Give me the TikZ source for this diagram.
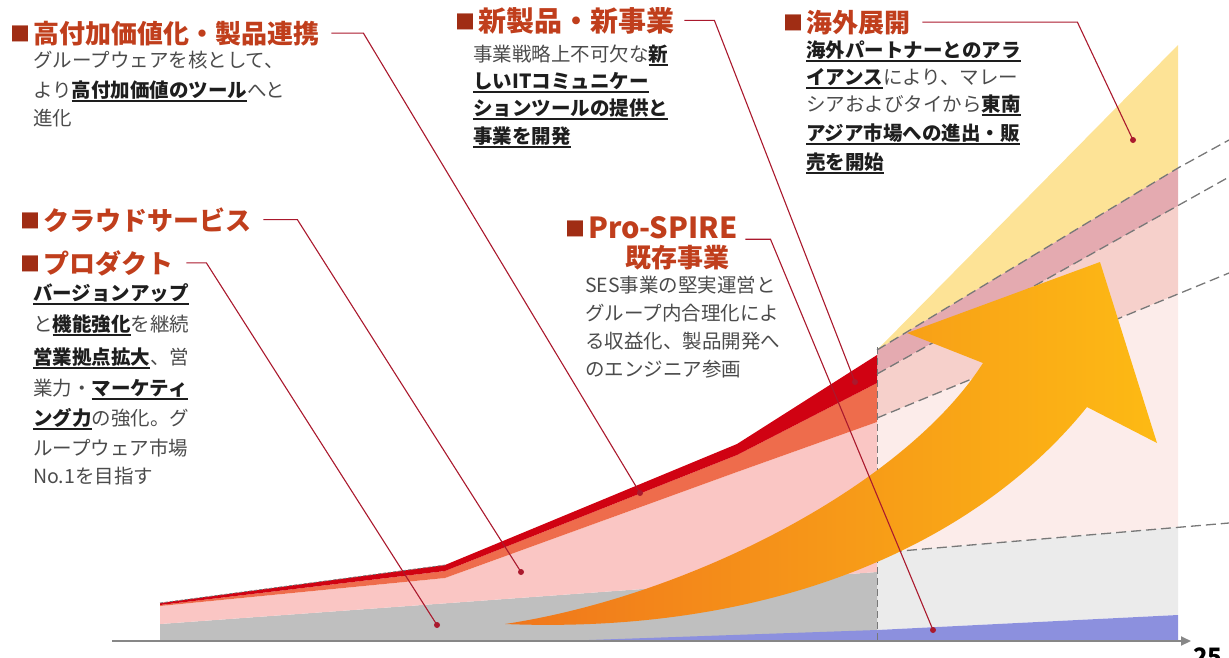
\documentclass[tikz,border=0pt]{standalone}
\usepackage{fontspec}
\setmainfont{Noto Sans CJK JP}
\usetikzlibrary{arrows.meta}
\definecolor{cyellow}{RGB}{253,227,150}
\definecolor{cmauve}{RGB}{228,170,176}
\definecolor{csalmon}{RGB}{246,208,203}
\definecolor{clpink}{RGB}{252,236,234}
\definecolor{clgray}{RGB}{235,235,235}
\definecolor{cblue}{RGB}{140,144,222}
\definecolor{cgray}{RGB}{191,191,191}
\definecolor{cpink}{RGB}{250,198,196}
\definecolor{corange}{RGB}{238,108,76}
\definecolor{cred}{RGB}{208,2,18}
\definecolor{arrowA}{RGB}{240,118,28}
\definecolor{arrowB}{RGB}{253,186,20}
\definecolor{leadred}{RGB}{170,25,45}
\definecolor{titlered}{RGB}{192,62,28}
\definecolor{sqred}{RGB}{160,45,20}
\definecolor{bodygray}{RGB}{75,75,75}
\definecolor{boldblack}{RGB}{30,30,30}
\definecolor{dashgray}{RGB}{120,120,120}
\definecolor{axisgray}{RGB}{135,135,135}
\newsavebox{\ulbox}
\newcommand{\myul}[1]{\sbox{\ulbox}{\bfseries\color{boldblack}#1}\rlap{\color{boldblack}\rule[-4.5pt]{\wd\ulbox}{1.3pt}}\usebox{\ulbox}}
\newcommand{\tsq}{\raisebox{2pt}{\fontsize{20}{20}\selectfont\color{sqred}■}\hspace{3pt}}
\begin{document}
\begin{tikzpicture}[x=1pt,y=-1pt,
  title/.style={anchor=base west,inner sep=0pt,text=titlered,font=\fontsize{26}{26}\selectfont\bfseries},
  body/.style={anchor=base west,inner sep=0pt,text=bodygray,font=\fontsize{19.5}{19.5}\selectfont},
  leader/.style={draw=leadred,line width=1.1pt},
  dot/.style={circle,fill=leadred,inner sep=0pt,minimum size=6pt},
  guide/.style={draw=dashgray,line width=1.3pt,dash pattern=on 10pt off 5pt},
  axis/.style={draw=axisgray,line width=2pt,-{Triangle[length=10pt,width=9pt]}}
]
\useasboundingbox (0,0) rectangle (1229,657);
% ---- right (future) region
\fill[cyellow] (877,350) -- (1178,45) -- (1178,168) -- cycle;
\fill[cmauve] (877,350) -- (1178,168) -- (1178,206) -- (877,374) -- cycle;
\fill[csalmon] (877,374) -- (1178,206) -- (1178,294) -- (877,418) -- cycle;
\fill[clpink] (877,418) -- (1178,294) -- (1178,527) -- (877,553) -- cycle;
\fill[clgray] (877,553) -- (1178,527) -- (1178,615) -- (877,630) -- cycle;
\fill[cblue] (877,630) -- (1178,615) -- (1178,641) -- (877,641) -- cycle;
% ---- left (actual) region
\fill[cgray] (160,641) -- (160,624) -- (877,572) -- (877,641) -- cycle;
\fill[cpink] (160,624) -- (160,606) -- (445,578) -- (737,472) -- (877,422) -- (877,572) -- cycle;
\fill[corange] (160,606) -- (445,578) -- (737,472) -- (877,422) -- (877,383) -- (737,455) -- (445,571) -- (160,605) -- cycle;
\fill[cred] (160,605) -- (445,571) -- (737,455) -- (877,383) -- (877,355) -- (737,444) -- (445,565) -- (160,603) -- cycle;
\fill[cblue] (560,641) -- (877,630) -- (877,641) -- cycle;
\draw[draw=dashgray,line width=0.8pt,dash pattern=on 3pt off 2pt] (160,603) -- (445,565);
% ---- dashed guides
\draw[guide] (877,350) -- (1178,168) -- (1229,140);
\draw[guide] (877,374) -- (1229,177);
\draw[guide] (877,418) -- (1229,273);
\draw[guide] (877,553) -- (1229,523);
\draw[guide,line width=1pt,dash pattern=on 7pt off 4pt] (877,347) -- (877,641);
% ---- big arrow
\shade[left color=arrowA,right color=arrowB]
  (505,624) .. controls (690,596) and (905,485) .. (983,363)
  -- (907,333) -- (1100,262) -- (1157,443) -- (1087,407)
  .. controls (980,540) and (780,635) .. (505,624) -- cycle;
% ---- axis
\coordinate (ax0) at (112,641);
\coordinate (ax1) at (1191,641);
\draw[axis] (ax0) -- (ax1);
\node[anchor=base west,inner sep=0pt,font=\fontsize{24}{24}\selectfont\bfseries] (n25) at (1193,665) {25};
% ---- titles
\node[title] (t1) at (10,43) {\tsq 高付加価値化・製品連携};
\node[title,font=\fontsize{28}{28}\selectfont\bfseries] (t2) at (455,31) {\tsq 新製品・新事業};
\node[title] (t3) at (783,32) {\tsq 海外展開};
\node[title] (t4) at (20,230) {\tsq クラウドサービス};
\node[title] (t5) at (20,273) {\tsq プロダクト};
\node[title] (t6) at (565,238) {\tsq {\fontsize{29}{29}\selectfont Pro-SPIRE}};
\node[title] (t6b) at (625,267) {既存事業};
% ---- bodies
\node[body] (b11) at (33,67) {グループウェアを核として、};
\node[body] (b12) at (33,97) {より\myul{高付加価値のツール}へと};
\node[body] (b13) at (33,125) {進化};
\node[body] (b21) at (473,61) {事業戦略上不可欠な\myul{新}};
\node[body] (b22) at (473,88) {\myul{しいITコミュニケー}};
\node[body] (b23) at (473,115) {\myul{ションツールの提供と}};
\node[body] (b24) at (473,143) {\myul{事業を開発}};
\node[body] (b31) at (806,57) {\myul{海外パートナーとのアラ}};
\node[body] (b32) at (806,84) {\myul{イアンス}により、マレー};
\node[body] (b33) at (806,111) {シアおよびタイから\myul{東南}};
\node[body] (b34) at (806,140) {\myul{アジア市場への進出・販}};
\node[body] (b35) at (806,169) {\myul{売を開始}};
\node[body] (b51) at (33,300) {\myul{バージョンアップ}};
\node[body] (b52) at (33,331) {と\myul{機能強化}を継続};
\node[body] (b53) at (33,364) {\myul{営業拠点拡大}、営};
\node[body] (b54) at (33,395) {業力・\myul{マーケティ}};
\node[body] (b55) at (33,425) {\myul{ング力}の強化。グ};
\node[body] (b56) at (33,455) {ループウェア市場};
\node[body] (b57) at (33,483) {No.1を目指す};
\node[body] (b61) at (585,292) {SES事業の堅実運営と};
\node[body] (b62) at (585,320) {グループ内合理化によ};
\node[body] (b63) at (585,348) {る収益化、製品開発へ};
\node[body] (b64) at (585,376) {のエンジニア参画};
% ---- leader lines and dots
\node[dot] (d1) at (640,493) {};
\node[dot] (d2) at (855,382) {};
\node[dot] (d3) at (1133,140) {};
\node[dot] (d4) at (521,572) {};
\node[dot] (d5) at (437,625) {};
\node[dot] (d6) at (933,630) {};
\draw[leader] ([xshift=12pt]t1.east) -- ++(32,0) -- (d1.center);
\draw[leader] ([xshift=10pt]t2.east) -- ++(30,0) -- (d2.center);
\draw[leader] ([xshift=12pt]t3.east) -- ++(155,0) -- (d3.center);
\draw[leader] ([xshift=12pt]t4.east) -- ++(34,0) -- (d4.center);
\draw[leader] ([xshift=13pt]t5.east) -- ++(20,0) -- (d5.center);
\draw[leader] ([xshift=8pt,yshift=-12pt]t6.east) -- ++(25,0) -- (d6.center);
\end{tikzpicture}
\end{document}
